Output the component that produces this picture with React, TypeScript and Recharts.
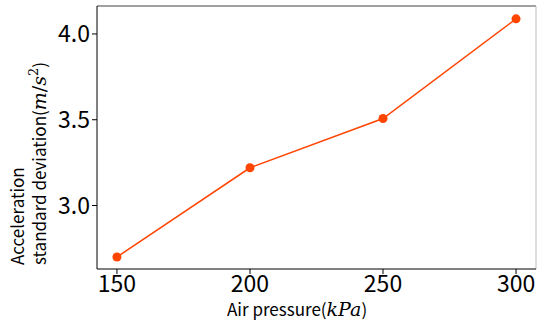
import { LineChart, Line, XAxis, YAxis, ReferenceLine } from "recharts";

const pressures = [150, 200, 250, 300];
const accelStd = [2.7, 3.22, 3.507, 4.088];
const xTicks = [150, 200, 250, 300];
const yTicks = [3.0, 3.5, 4.0];

const data = pressures.map((p, i) => ({ p, v: accelStd[i] }));

const FONT = "'Noto Sans CJK JP', 'Noto Sans', sans-serif";
const MATH = "'DejaVu Serif', serif";
const COLOR = "#ff4500";

export default function App() {
  return (
    <div style={{ position: "absolute", left: 0, top: 0, width: 537, height: 320, background: "#fff" }}>
      <LineChart width={537} height={320} data={data} margin={{ top: 6, right: 1, bottom: 0, left: 0 }}>
        <XAxis
          dataKey="p"
          type="number"
          domain={[142.5, 307.5]}
          ticks={xTicks}
          allowDataOverflow
          height={51}
          stroke="#000"
          tickSize={5}
          tick={{ fontSize: 23, fill: "#000", fontFamily: FONT }}
        />
        <YAxis
          type="number"
          domain={[2.63, 4.163]}
          ticks={yTicks}
          allowDataOverflow
          width={97}
          stroke="#000"
          tickSize={5}
          tickFormatter={(v: number) => v.toFixed(1)}
          tick={{ fontSize: 23, fill: "#000", fontFamily: FONT }}
        />
        <ReferenceLine y={4.163} stroke="#808080" strokeWidth={1.5} />
        <ReferenceLine x={307.5} stroke="#bbbbbb" strokeWidth={1} />
        <Line
          dataKey="v"
          stroke={COLOR}
          strokeWidth={1.5}
          dot={{ r: 4.5, fill: COLOR, stroke: COLOR, strokeWidth: 0 }}
          isAnimationActive={false}
        />
      </LineChart>
      <svg width={537} height={320} style={{ position: "absolute", left: 0, top: 0, pointerEvents: "none" }}>
        <text x={227} y={316} textAnchor="start" fontSize={17} fontFamily={FONT} fill="#000">
          Air pressure(
          <tspan fontFamily={MATH} fontStyle="italic" fontSize={19}>kPa</tspan>)
        </text>
        <g transform="translate(24, 265) rotate(-90)">
          <text x={0} y={0} textAnchor="start" fontSize={17} fontFamily={FONT} fill="#000">
            Acceleration
          </text>
          <text x={0} y={22} textAnchor="start" fontSize={17} fontFamily={FONT} fill="#000">
            standard deviation(
            <tspan fontFamily={MATH} fontStyle="italic" fontSize={19}>m</tspan>
            <tspan fontFamily={MATH} fontSize={19}>/</tspan>
            <tspan fontFamily={MATH} fontStyle="italic" fontSize={19}>s</tspan>
            <tspan fontFamily={MATH} fontSize={13} dy={-8}>2</tspan>
            <tspan dy={8}>)</tspan>
          </text>
        </g>
      </svg>
    </div>
  );
}
